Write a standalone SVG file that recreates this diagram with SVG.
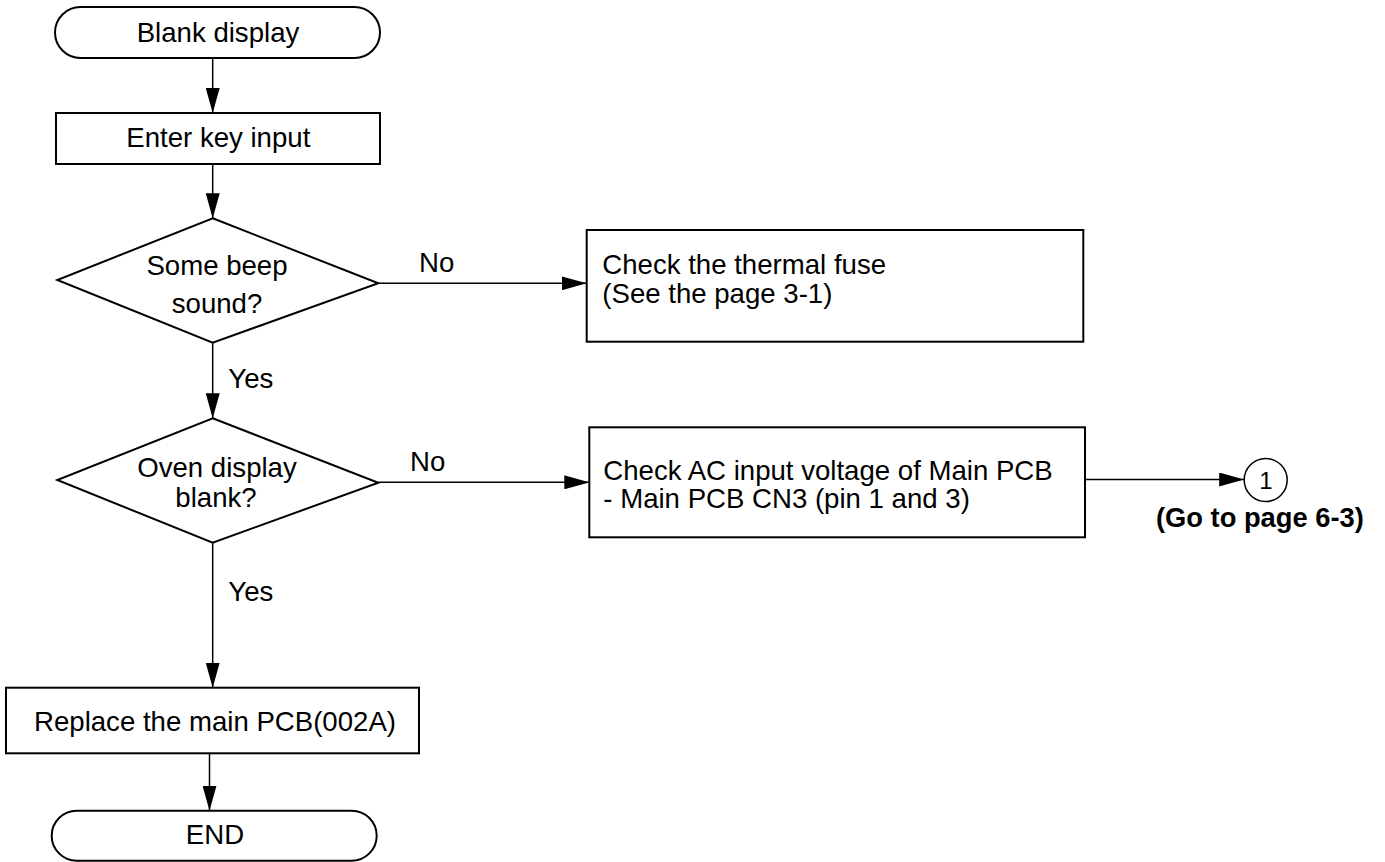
<svg xmlns="http://www.w3.org/2000/svg" width="1385" height="862" viewBox="0 0 1385 862">
<style>
.shape{fill:#fff;stroke:#000;stroke-width:2}
.conn{fill:none;stroke:#000;stroke-width:1.5}
text{font-family:"Liberation Sans",Arial,Helvetica,sans-serif;font-size:27.6px;fill:#000}
.c{text-anchor:middle}
.b{font-weight:bold;font-size:27.3px}
</style>
<defs>
<marker id="ah" viewBox="0 0 25 14" markerWidth="25" markerHeight="14" refX="25" refY="7" markerUnits="userSpaceOnUse" orient="auto">
<path d="M0,0 L25,7 L0,14 z" fill="#000"/>
</marker>
</defs>
<rect width="1385" height="862" fill="#fff"/>
<g id="connectors">
<path class="conn" d="M212.7,58 V113" marker-end="url(#ah)"/>
<path class="conn" d="M212.7,164 V218.3" marker-end="url(#ah)"/>
<path class="conn" d="M212.7,342.7 V418.3" marker-end="url(#ah)"/>
<path class="conn" d="M212.7,542.7 V687.7" marker-end="url(#ah)"/>
<path class="conn" d="M209.5,753.3 V810.7" marker-end="url(#ah)"/>
<path class="conn" d="M378.3,283.3 H586.7" marker-end="url(#ah)"/>
<path class="conn" d="M378.3,482.3 H589.3" marker-end="url(#ah)"/>
<path class="conn" d="M1085,479.5 H1244.2" marker-end="url(#ah)"/>
<text x="419" y="272">No</text>
<text x="410" y="470.5">No</text>
<text x="228.3" y="387.7">Yes</text>
<text x="228.3" y="600.7">Yes</text>
</g>
<g id="start">
<rect class="shape" x="55" y="7" width="325" height="51" rx="25.5"/>
<text class="c" x="218" y="41.7">Blank display</text>
</g>
<g id="enter-key">
<rect class="shape" x="56" y="113" width="324" height="51"/>
<text class="c" x="218.3" y="146.7">Enter key input</text>
</g>
<g id="beep-decision">
<polygon class="shape" points="212.7,218.3 378.3,283.3 212.7,342.7 57.3,280"/>
<text class="c" x="217" y="275">Some beep</text>
<text class="c" x="217" y="312.7">sound?</text>
</g>
<g id="thermal-fuse">
<rect class="shape" x="586.7" y="230" width="496.6" height="111.7"/>
<text x="602.3" y="274.3">Check the thermal fuse</text>
<text x="602.3" y="302.5">(See the page 3-1)</text>
</g>
<g id="display-decision">
<polygon class="shape" points="212.7,418.3 378.3,482.7 212.7,542.7 57.3,480"/>
<text class="c" x="217" y="476.7">Oven display</text>
<text class="c" x="216" y="507.3">blank?</text>
</g>
<g id="ac-voltage">
<rect class="shape" x="589.3" y="427.3" width="495.7" height="110"/>
<text x="603.3" y="480">Check AC input voltage of Main PCB</text>
<text x="603.3" y="508">- Main PCB CN3 (pin 1 and 3)</text>
</g>
<g id="connector-1">
<circle cx="1265.7" cy="480" r="21.5" fill="#fff" stroke="#000" stroke-width="1.5"/>
<text class="c" x="1266" y="489" style="font-size:24px">1</text>
<text class="b" x="1156" y="527.3">(Go to page 6-3)</text>
</g>
<g id="replace-pcb">
<rect class="shape" x="6" y="687.7" width="413" height="65.6"/>
<text class="c" x="215" y="731">Replace the main PCB(002A)</text>
</g>
<g id="end">
<rect class="shape" x="51.7" y="810.7" width="325" height="50" rx="25"/>
<text class="c" x="215" y="844">END</text>
</g>
</svg>
